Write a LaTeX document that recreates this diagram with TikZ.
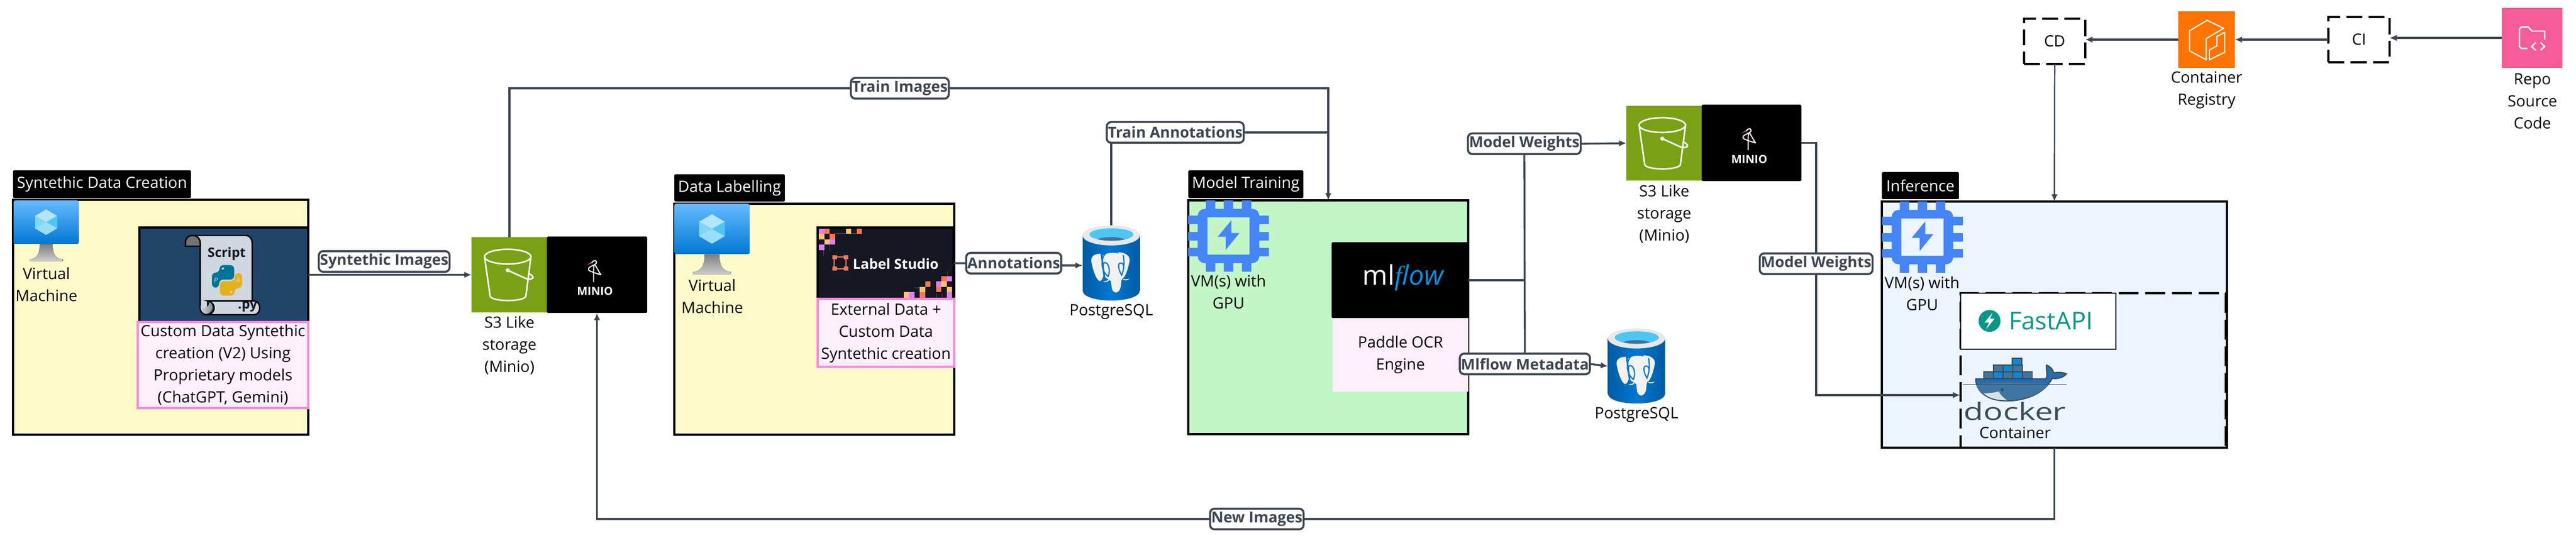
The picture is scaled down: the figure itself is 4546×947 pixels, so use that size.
\documentclass[tikz,border=0pt]{standalone}
\usepackage{fontspec}
\setmainfont{Open Sans}
\newfontfamily\logoserif{Liberation Serif}
\usetikzlibrary{arrows.meta, positioning}
\definecolor{yellowbg}{HTML}{FCFAC9}
\definecolor{greenbg}{HTML}{C2F6C6}
\definecolor{bluebg}{HTML}{ECF4FE}
\definecolor{pinkbg}{HTML}{FDEFFB}
\definecolor{pinkline}{HTML}{FF87E0}
\definecolor{connline}{HTML}{3E4552}
\definecolor{scriptbg}{HTML}{204569}
\definecolor{s3green}{HTML}{7AA116}
\definecolor{chipblue}{HTML}{4485F7}
\definecolor{pgblue}{HTML}{0078D4}
\definecolor{pgdark}{HTML}{005BA1}
\definecolor{lsbg}{HTML}{151823}
\definecolor{lsorange}{HTML}{FF7557}
\definecolor{lstan}{HTML}{FBC273}
\definecolor{lspurple}{HTML}{DD80F2}
\definecolor{mlblue}{HTML}{0194E2}
\definecolor{fastgreen}{HTML}{059888}
\definecolor{dockerdark}{HTML}{394D54}
\definecolor{paper}{HTML}{CFD8E0}
\tikzset{
  every node/.style={font=\fontsize{7.8}{11.1}\selectfont, inner sep=0, outer sep=0, align=center},
  groupbox/.style={draw=black, line width=1.1pt, anchor=north west},
  titlebox/.style={fill=black, text=white, anchor=north west, rounded corners=0.5pt},
  imgbox/.style={draw=black, line width=1pt, anchor=north west},
  pinkbox/.style={draw=pinkline, fill=pinkbg, line width=1pt, anchor=north west},
  tile/.style={anchor=north west},
  conn/.style={draw=connline, line width=0.95pt},
  thinconn/.style={draw=connline, line width=0.7pt},
  arrowconn/.style={conn, -{Latex[length=3.6pt,width=3.2pt]}},
  flowlabel/.style={draw=connline, fill=white, line width=1pt, rounded corners=2.2pt,
    text=connline, font=\fontsize{7.55}{9}\selectfont\bfseries, inner xsep=0.2mm, minimum height=3.65mm},
  cicd/.style={draw=black, line width=1pt, dash pattern=on 8pt off 3.2pt, anchor=north west},
  pics/vmicon/.style={code={
    \fill[top color=black!50, bottom color=black!20] (-11.5,39) -- (11.5,39)
      .. controls (11,56) and (16,64) .. (29,66) -- (29,69) -- (-29,69) -- (-29,66)
      .. controls (-16,64) and (-11,56) .. (-11.5,39) -- cycle;
    \fill[top color=blue!45!cyan!60!white, bottom color=pgblue, rounded corners=1pt] (-57.5,-38.5) rectangle (57.5,38.5);
    \fill[cyan!30!white] (0,-22.5) -- (19.5,-11) -- (0,0) -- (-19.5,-11) -- cycle;
    \fill[cyan!50!white] (0,0) -- (-19.5,-11) -- (-19.5,11) -- (0,22.5) -- cycle;
    \fill[cyan!70!white] (0,0) -- (19.5,-11) -- (19.5,11) -- cycle;
    \fill[cyan!40!white] (0,0) -- (19.5,11) -- (0,22.5) -- (-19.5,11) -- cycle;
  }},
  pics/chipicon/.style={code={
    \fill[chipblue, even odd rule] [rounded corners=3.5pt] (-54.3,-48) rectangle (54.3,48)
      [sharp corners] (-37.2,-33) rectangle (37.2,33);
    \foreach \y in {-28.5, 0.5, 28.5}
      \fill[chipblue] (-71.3,\y-7.5) rectangle (-50,\y+7.5) (50,\y-7.5) rectangle (71.3,\y+7.5);
    \foreach \x in {-31.7, 0, 32}
      \fill[chipblue] (\x-8.3,-63) rectangle (\x+8.3,-44) (\x-8.3,44) rectangle (\x+8.3,63);
    \fill[chipblue] (5,-27.7) -- (-19,1.3) -- (-5,1.3) -- (-5,24.7) -- (19.3,-5.3) -- (5,-5.3) -- cycle;
  }},
  pics/bucket/.style={code={
    \draw[white, line width=0.75pt, line join=round]
      (-3,-32) ellipse [x radius=41, y radius=13]
      (-44,-32) -- (-34,38) .. controls (-30,48) and (25,48) .. (29,38) -- (38,-32)
      (-3,-8) -- (30,7) .. controls (38,9) and (44,6) .. (41,3) .. controls (39,0) and (36,-1) .. (35,-2);
    \fill[white] (-3,-8) circle [radius=3.6];
  }},
  pics/bird/.style={code={
    \fill[orange!90!red] (-9,-23) -- (-18,-17) -- (-8,-21) -- cycle;
    \draw[white, line width=0.55pt, line join=round]
      (-9,-21) .. controls (-6,-27) and (0,-26) .. (-1,-21) .. controls (-2,-17) and (-15,-15) .. (-15,-10)
      .. controls (-15,-6) and (-9,-6) .. (-6,-4) -- (-6,13)
      (-5,-18) .. controls (-6,-12) and (-6,-8) .. (-6,-4) -- (7,0) .. controls (3,-6) and (0,-12) .. (-3,-17);
  }},
  pics/pgicon/.style={code={
    \shade[left color=pgdark, right color=pgdark, middle color=pgblue] (-50.5,-49) -- (-50.5,48)
      .. controls (-50.5,72) and (50.5,72) .. (50.5,48) -- (50.5,-49) -- cycle;
    \fill[black!9] (0,-49) ellipse [x radius=50.5, y radius=17.7];
    \begin{scope}
      \clip (0.5,-50.7) ellipse [x radius=39, y radius=11];
      \fill[cyan!70!white] (0.5,-50.7) ellipse [x radius=39, y radius=11];
      \fill[cyan!55!black!80!blue] (0,-37) ellipse [x radius=30, y radius=9];
    \end{scope}
    \begin{scope}[shift={(-60.5,-75)}, scale=1/3]
      \fill[black!5] (125,175) .. controls (85,175) and (70,195) .. (78,225)
        .. controls (85,260) and (100,310) .. (120,320) .. controls (135,318) and (135,300) .. (140,295) -- cycle;
      \fill[black!5] (218,168) .. controls (250,165) and (285,185) .. (278,215)
        .. controls (270,260) and (255,300) .. (240,308) -- cycle;
      \fill[black!5] (135,185) .. controls (165,165) and (215,165) .. (245,185) -- (245,290)
        -- (235,320) -- (232,350) .. controls (225,385) and (195,392) .. (185,360) -- (180,320) -- (150,300) -- cycle;
      \fill[black!5] (138,322) .. controls (150,320) and (165,318) .. (172,308) .. controls (170,325) and (150,330) .. (138,322);
      \fill[black!5] (240,308) .. controls (255,312) and (265,310) .. (278,307) .. controls (270,318) and (250,320) .. (240,308);
      \draw[pgblue, line width=0.6pt] (150,175) .. controls (125,200) and (125,265) .. (165,295)
        .. controls (178,270) and (170,225) .. (150,222) .. controls (140,222) and (135,235) .. (137,245);
      \draw[pgblue, line width=0.6pt] (245,182) .. controls (255,230) and (245,270) .. (237,288)
        .. controls (225,270) and (215,240) .. (225,226) .. controls (232,222) and (245,225) .. (247,238);
    \end{scope}
  }},
}

\begin{document}
\begin{tikzpicture}[x=0.1mm, y=-0.1mm]
  \useasboundingbox (0,0) rectangle (4546,947);

  % Group boxes
  \node[groupbox, fill=yellowbg, minimum width=52.1mm, minimum height=41.5mm] (synthbox) at (23,353) {};
  \node[groupbox, fill=yellowbg, minimum width=49.4mm, minimum height=40.8mm] (labelbox) at (1190,360) {};
  \node[groupbox, fill=greenbg, minimum width=49.4mm, minimum height=41.3mm] (modelbox) at (2097,354) {};
  \node[groupbox, fill=bluebg, line width=1pt, minimum width=60.9mm, minimum height=43.5mm] (inferbox) at (3321,356) {};
  \node[titlebox, minimum width=31.4mm, minimum height=4.9mm] (synthtitle) at (23,301) {Syntethic Data Creation};
  \node[titlebox, minimum width=19.5mm, minimum height=4.8mm] (labeltitle) at (1190,308) {Data Labelling};
  \node[titlebox, minimum width=20.3mm, minimum height=4.9mm] (modeltitle) at (2097,301) {Model Training};
  \node[titlebox, minimum width=13.6mm, minimum height=4.8mm] (infertitle) at (3321,304) {Inference};

  % Virtual machines and GPUs
  \pic at (81.5,392.5) {vmicon};
  \node (vmsynth) at (82,503) {Virtual\\Machine};
  \pic[scale=1.156] at (1256.5,404.5) {vmicon};
  \node (vmlabel) at (1257,524) {Virtual\\Machine};
  \pic at (2168,417) {chipicon};
  \node (vmmodel) at (2168,516) {VM(s) with\\GPU};
  \pic at (3392.5,419) {chipicon};
  \node (vminfer) at (3392,518.5) {VM(s) with\\GPU};

  % Script image
  \node[imgbox, fill=scriptbg, minimum width=29.8mm, minimum height=16.7mm] (scriptimg) at (246,402) {};
  \begin{scope}[shift={(20,350)}, scale=1/3]
    \filldraw[fill=paper, draw=black, line width=0.7pt] (960,198) -- (1240,198) .. controls (1262,198) and (1275,215) .. (1275,240)
      -- (1275,545) -- (1040,545) -- (1040,618) .. controls (1015,618) and (1000,605) .. (1000,580) -- (1000,240)
      .. controls (1000,215) and (985,198) .. (960,198) -- cycle;
    \filldraw[fill=black!55, draw=black, line width=0.7pt] (1000,255) -- (922,255) -- (922,235)
      .. controls (922,210) and (940,198) .. (960,198) .. controls (985,198) and (1000,215) .. (1000,240) -- cycle;
    \filldraw[fill=paper, draw=black, line width=0.7pt] (1040,545) -- (1285,545) .. controls (1325,545) and (1325,618) .. (1285,618)
      -- (1040,618) .. controls (1085,610) and (1085,555) .. (1040,545) -- cycle;
    \shade[left color=paper, right color=black!50] (1003,570) -- (1003,580) .. controls (1003,600) and (1015,614) .. (1037,614)
      .. controls (1070,600) and (1072,565) .. (1050,552) .. controls (1040,590) and (1010,590) .. (1003,570) -- cycle;
    % Python snake
    \fill[blue!25!cyan!60!black, rounded corners=2pt] (1102,395) -- (1102,355) -- (1180,355) -- (1180,432) -- (1100,432)
      -- (1100,475) -- (1062,475) -- (1062,395) -- cycle;
    \fill[yellow!75!red!90!black, rounded corners=2pt] (1182,477) -- (1182,517) -- (1104,517) -- (1104,440) -- (1184,440)
      -- (1184,397) -- (1222,397) -- (1222,477) -- cycle;
    \fill[paper] (1120,373) circle [radius=6] (1164,497) circle [radius=6];
  \end{scope}
  \node[font=\fontsize{6.6}{8}\selectfont\bfseries, text=lsbg] (scripttext) at (400,448) {Script};
  \node[font=\fontsize{6.6}{8}\selectfont\bfseries, text=lsbg] (scriptpy) at (437,542) {.py};
  \node[font=\fontsize{3.4}{4}\selectfont\itshape, text=paper] (snakep) at (381,495) {P};
  \node[font=\fontsize{3.4}{4}\selectfont\itshape, text=paper] (snakea) at (420,495) {A};
  \node[pinkbox, minimum width=30.1mm, minimum height=15.2mm] (scripttxt) at (243,569) {Custom Data Syntethic\\creation (V2) Using\\Proprietary models\\(ChatGPT, Gemini)};

  % First storage
  \node[tile, fill=s3green, minimum width=13.4mm, minimum height=13.3mm] (s3a) at (832,419) {};
  \pic at (s3a.center) {bucket};
  \node[tile, fill=black, rounded corners=0.5pt, minimum width=17.7mm, minimum height=13.5mm] (minioa) at (965,418) {};
  \pic at (minioa.center) {bird};
  \node[text=white, font=\fontsize{5.6}{6}\selectfont\bfseries] (minioatext) at (1050,514) {MINIO};
  \node (s3atext) at (899,610) {S3 Like\\storage\\(Minio)};

  % Label Studio image
  \node[imgbox, fill=lsbg, minimum width=24mm, minimum height=12.6mm] (labelimg) at (1443,402) {};
  \draw[black!70, line width=0.25pt] (1473,412) -- (1513,412) (1453,442) -- (1453,452) (1463,432) -- (1463,442)
    (1613,508) -- (1623,508) -- (1623,526) (1672,479) -- (1672,489) (1652,518) -- (1652,526) (1662,518) -- (1662,526);
  \foreach \x/\y/\c in {0/0/lspurple, 1/0/lsorange, 5/0/lstan, 7/0/lsorange, 0/1/lstan, 2/1/lsorange,
      1/2/lstan, 2/2/lspurple, 0/3/lspurple}
    \fill[\c] (1445+9.5*\x,404+9.5*\y) rectangle +(9.5,9.5);
  \foreach \x/\y/\c in {1/3/lsorange, 0/3/lspurple, 4/2/lsorange, 2/2/lspurple, 1/2/lstan, 5/1/lstan,
      2/1/lsorange, 0/1/lstan, 8/0/lstan, 7/0/lspurple, 5/0/lsorange, 0/0/lspurple}
    \fill[\c] (1670.5-9.5*\x,516.5-9.5*\y) rectangle +(9.5,9.5);
  \draw[lsorange, line width=0.6pt] (1472,454) rectangle (1493,475);
  \foreach \x/\y in {1469/451, 1489/451, 1469/471, 1489/471}
    \fill[lsorange] (\x,\y) rectangle +(7.5,7.5);
  \node[text=white, font=\fontsize{7}{9}\selectfont\bfseries, anchor=west] (labelimgtext) at (1505,466) {Label Studio};
  \node[pinkbox, minimum width=24.1mm, minimum height=12mm] (labeltxt) at (1443,528) {External Data +\\Custom Data\\Syntethic creation};

  % First database
  \node[minimum width=10.1mm, minimum height=13.4mm] (pga) at (1961,465) {};
  \pic at (pga.center) {pgicon};
  \node (pgatext) at (1961,551) {PostgreSQL};

  % Mlflow image
  \node[tile, fill=pinkbg, minimum width=23.9mm, minimum height=13mm] (paddletxt) at (2352,562) {Paddle OCR\\Engine};
  \node[tile, fill=black, rounded corners=0.5pt, minimum width=24.1mm, minimum height=13.4mm] (mlflowimg) at (2350,428) {};
  \node[font=\fontsize{13.6}{16}\selectfont, text=white] (mlflowtext) at (2477,490)
    {ml\textcolor{mlblue}{{\logoserif\itshape f}\textit{low}}};

  % Second storage
  \node[tile, fill=s3green, minimum width=13.3mm, minimum height=13.2mm] (s3b) at (2870,187) {};
  \pic at (s3b.center) {bucket};
  \node[tile, fill=black, rounded corners=0.5pt, minimum width=17.6mm, minimum height=13.5mm] (miniob) at (3003,185) {};
  \pic at (miniob.center) {bird};
  \node[text=white, font=\fontsize{5.6}{6}\selectfont\bfseries] (miniobtext) at (3087,281) {MINIO};
  \node (s3btext) at (2937,378) {S3 Like\\storage\\(Minio)};

  % Second database
  \node[minimum width=10.1mm, minimum height=13.4mm] (pgb) at (2888,647) {};
  \pic at (pgb.center) {pgicon};
  \node (pgbtext) at (2888,733) {PostgreSQL};

  % Docker and FastAPI
  \node[anchor=north west, draw=black, line width=1pt, dash pattern=on 10pt off 3.4pt, minimum width=46.8mm, minimum height=27.3mm] (dockerbox) at (3460,518) {};
  \node[anchor=north west, draw=black, fill=white, line width=0.5pt, minimum width=27.4mm, minimum height=9.9mm] (fastbox) at (3460,518) {};
  \fill[fastgreen] (3511,567) circle [radius=19.3];
  \fill[white] (3516,553) -- (3502,570) -- (3510,570) -- (3505,582) -- (3520,563) -- (3512,563) -- cycle;
  \node[font=\fontsize{12.4}{16}\selectfont, text=fastgreen, anchor=west] (fasttext) at (3545,567) {FastAPI};
  \begin{scope}[shift={(3440,510)}, scale=1/3]
    \foreach \x/\y/\c in {333/368/cyan!70!blue, 233/405/cyan!60!black!80!blue, 285/405/cyan!70!blue, 336/405/cyan!60!black!80!blue,
        183/442/cyan!60!black!80!blue, 235/442/cyan!70!blue, 285/442/cyan!60!black!80!blue, 336/442/cyan!70!blue, 388/442/cyan!60!black!80!blue}
      \filldraw[fill=\c, draw=dockerdark, line width=0.5pt] (\x,\y) rectangle +(51,36);
    \filldraw[fill=cyan!50!blue!90!black, draw=dockerdark, line width=0.6pt] (140,478) -- (510,478)
      .. controls (525,465) and (510,425) .. (515,405) .. controls (535,412) and (550,430) .. (553,447)
      .. controls (580,440) and (605,445) .. (620,452) .. controls (605,470) and (575,480) .. (545,475)
      .. controls (500,560) and (400,595) .. (300,595) .. controls (210,595) and (140,550) .. (140,478) -- cycle;
    \fill[cyan!60!black!80!blue] (143,510) .. controls (220,495) and (340,495) .. (525,508)
      .. controls (480,560) and (400,592) .. (300,592) .. controls (220,592) and (160,560) .. (143,510) -- cycle;
    \fill[cyan!10!white!90!black] (182,555) .. controls (210,555) and (245,550) .. (262,545)
      .. controls (270,565) and (290,580) .. (305,592) .. controls (250,592) and (210,580) .. (182,555) -- cycle;
    \draw[dockerdark, line width=0.4pt] (72,508) -- (620,508);
    \fill[dockerdark] (280,536) circle [radius=8];
  \end{scope}
  \node[font=\fontsize{12}{14}\selectfont, text=dockerdark] (dockertext) at (3556,727) {\scalebox{1.35}[1]{docker}};
  \node (dockerlabel) at (3556,765) {Container};
  \coordinate (dockerin) at (3459,698);

  % CI and CD row
  \node[cicd, minimum width=10.8mm, minimum height=8mm] (cd) at (3572,33) {CD};
  \node[cicd, minimum width=10.8mm, minimum height=8mm] (ci) at (4109,30) {CI};
  \node[tile, fill=orange!90!red, minimum width=10mm, minimum height=10mm] (registry) at (3844,20) {};
  \begin{scope}[shift={(3830,5)}, scale=1/3]
    \draw[white, line width=0.6pt, line join=round] (195,93) -- (282,135) -- (190,190) -- (190,302) -- (102,255) -- (102,148) -- cycle;
    \draw[white, line width=0.6pt, line join=round] (288,157) -- (288,262) -- (207,302) -- (207,250) -- (247,228) -- (247,178) -- cycle;
  \end{scope}
  \node (registrytext) at (3894,159.5) {Container\\Registry};
  \node[tile, fill=magenta!70!red!65!white, minimum width=10.7mm, minimum height=10.6mm] (repo) at (4415,14) {};
  \begin{scope}[shift={(4400,5)}, scale=1/3]
    \draw[white, line width=0.7pt, line join=round] (180,242) -- (148,242) -- (138,232) -- (138,140) -- (148,128) -- (185,128)
      -- (205,150) -- (272,150) -- (272,195);
    \draw[white, line width=0.7pt] (225,210) -- (203,232) -- (225,252) (250,210) -- (272,232) -- (250,252);
  \end{scope}
  \node (repotext) at (4469,179) {Repo\\Source\\Code};

  % Labels on the connectors
  \node[flowlabel] (lblsynth) at (678,462) {Syntethic Images};
  \node[flowlabel] (lbltrainimg) at (1588,156) {Train Images};
  \node[flowlabel] (lblannot) at (1789,465) {Annotations};
  \node[flowlabel] (lbltrainann) at (2074,234) {Train Annotations};
  \node[flowlabel] (lblweightsa) at (2690,254) {Model Weights};
  \node[flowlabel] (lblmeta) at (2691,643) {Mlflow Metadata};
  \node[flowlabel] (lblweightsb) at (3205,466) {Model Weights};
  \node[flowlabel] (lblnew) at (2218,917) {New Images};

  % Connectors
  \draw[arrowconn] (scriptimg.east) -- (s3a.west);
  \draw[conn] (s3a.north) |- (lbltrainimg.west);
  \draw[arrowconn] (lbltrainimg.east) -| (modelbox.north);
  \draw[conn] (labelimg.east) -- (lblannot.west);
  \draw[arrowconn] ([yshift=-0.4mm]lblannot.east) -- ([yshift=-0.4mm]pga.west);
  \draw[conn] (pga.north) -- (pga.north |- lbltrainann.south);
  \draw[conn] (lbltrainann.east) -- (lbltrainann.east -| modelbox.north);
  \draw[conn] (lblweightsa.south) -- (lblmeta.north);
  \draw[conn] (mlflowimg.east) -- (mlflowimg.east -| lblweightsa.south);
  \draw[arrowconn] (lblweightsa.east) -- (s3b.west);
  \draw[arrowconn] (lblmeta.east) -- (pgb.west);
  \draw[conn] (miniob.east) -| (lblweightsb.north);
  \draw[arrowconn] (lblweightsb.south) |- (dockerin);
  \draw[conn] (inferbox.south) |- (lblnew.east);
  \draw[arrowconn] (lblnew.west) -| (minioa.south);
  \draw[thinconn, -{Latex[length=3.6pt,width=3.2pt]}] (cd.south) -- (inferbox.north);
  \draw[arrowconn] (registry.west) -- (registry.west -| cd.east);
  \draw[arrowconn] (ci.west) -- (ci.west -| registry.east);
  \draw[arrowconn] (repo.west) -- (repo.west -| ci.east);
\end{tikzpicture}
\end{document}
